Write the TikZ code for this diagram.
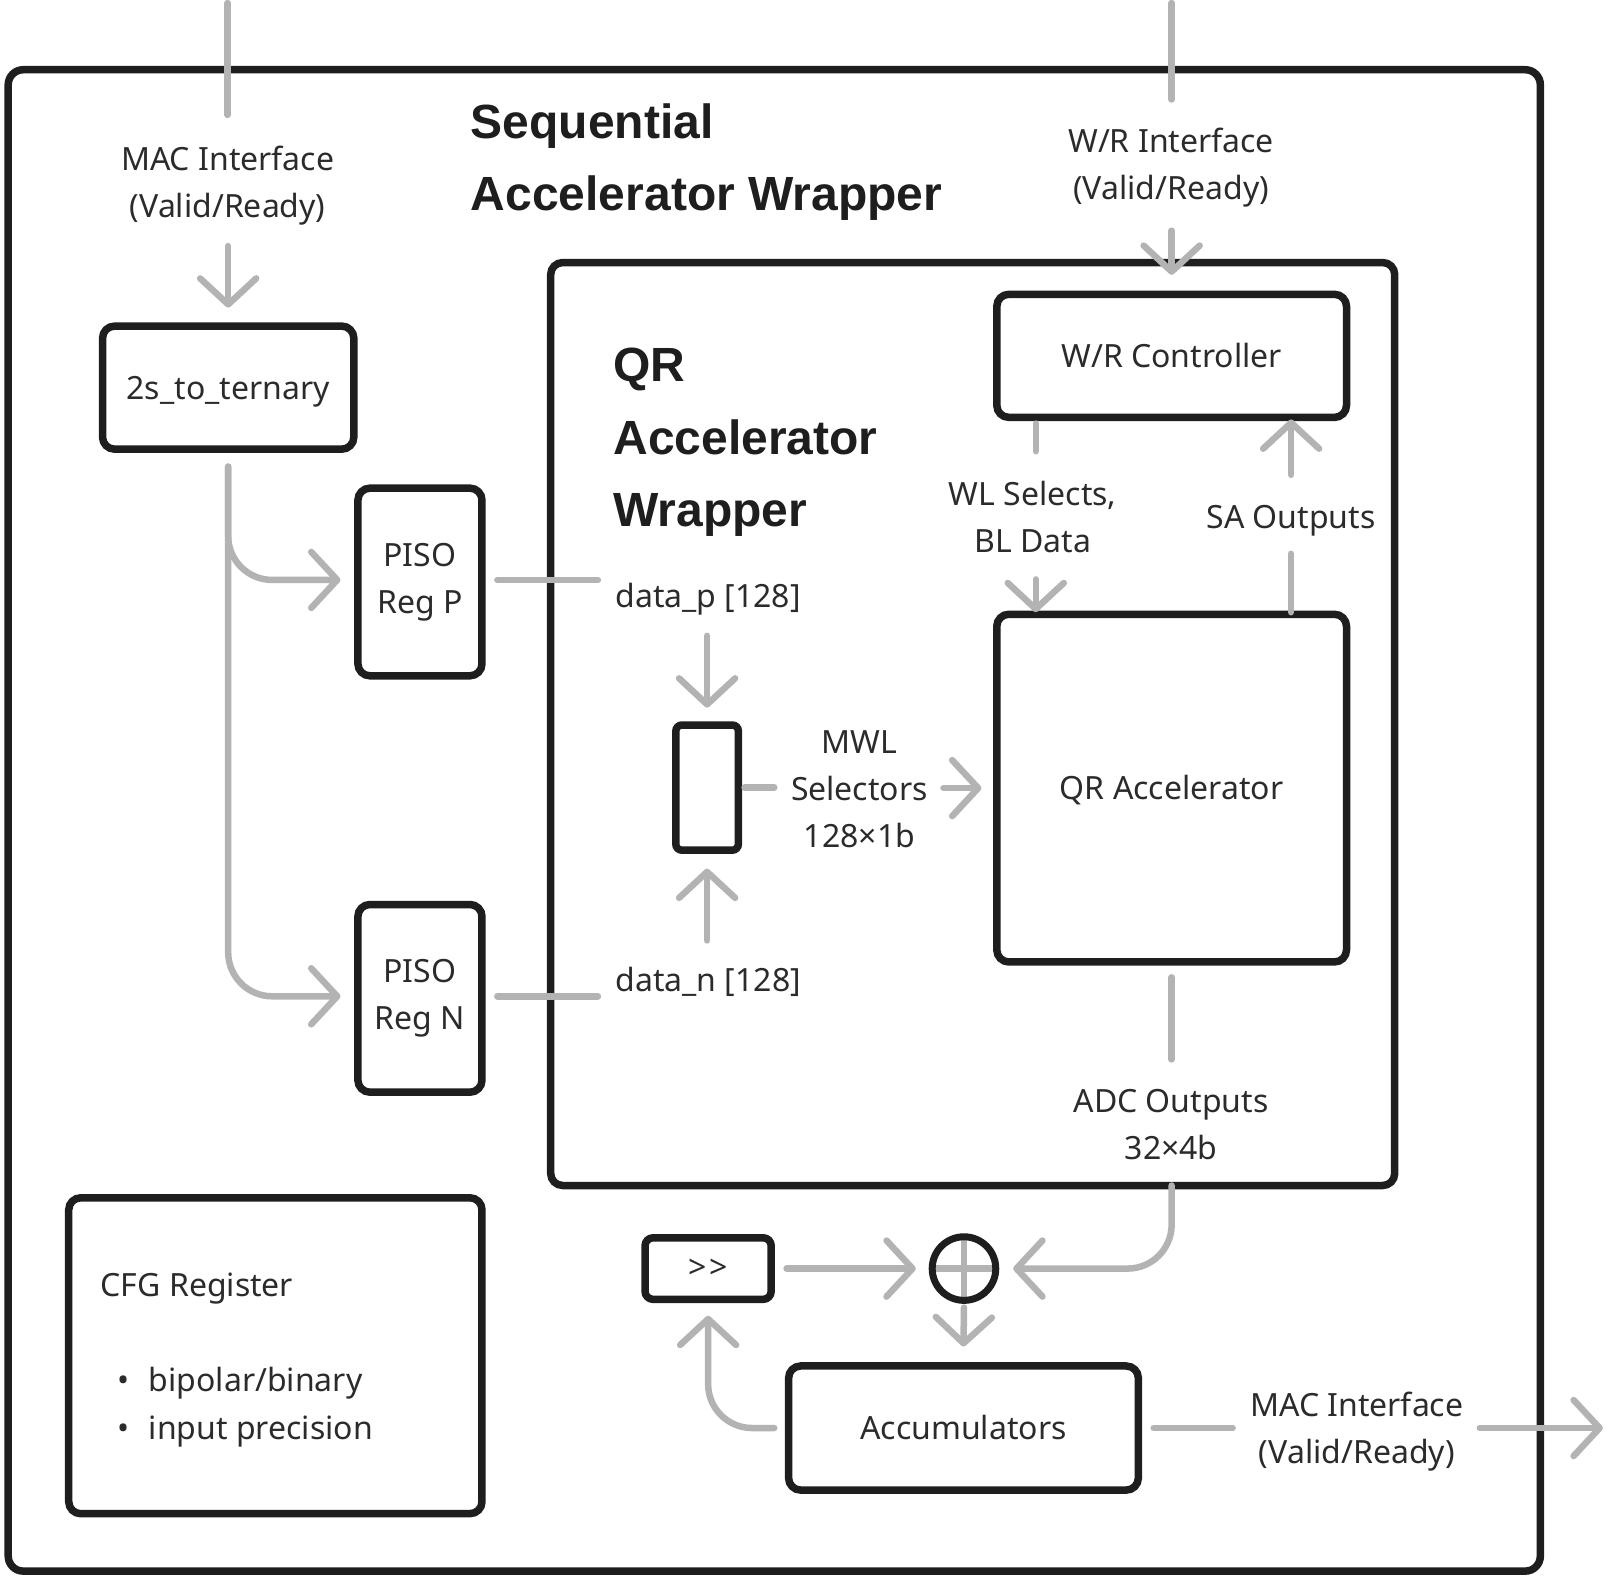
\documentclass[tikz,border=0pt]{standalone}
\usepackage{fontspec}
\setmainfont{Noto Sans}
\setsansfont{Noto Sans}
\newfontfamily\titlefont{Liberation Sans}[UprightFont={* Bold}]
\usetikzlibrary{arrows.meta,calc}
\definecolor{ink}{HTML}{1E1E1E}
\definecolor{txt}{HTML}{2B2B2B}
\definecolor{wiregray}{HTML}{B3B3B3}
\tikzset{
  box/.style={draw=ink, line width=7.5pt, rounded corners=12pt, align=center, text=txt,
    font=\fontsize{32}{47}\selectfont, inner sep=0pt, outer sep=0pt},
  oneline/.style={text height=23pt, text depth=0pt},
  wh/.style 2 args={minimum width=#1*1.0255pt, minimum height=#2*1.0255pt},
  lbl/.style={text=txt, font=\fontsize{32}{47}\selectfont, align=center, inner sep=0pt},
  lblw/.style={text=txt, font=\fontsize{32}{47}\selectfont, anchor=base west, inner sep=0pt},
  ttl/.style={text=ink, font=\titlefont\fontsize{48}{70}\selectfont, anchor=base west, inner sep=0pt},
  wire/.style={draw=wiregray, line width=6.5pt, line cap=round, line join=round},
  arr/.style={wire, -{Straight Barb[length=26pt,width=56pt,round]}},
}
\begin{document}
\begin{tikzpicture}[x=1.0255pt,y=-1.0255pt]
\useasboundingbox (0,0) rectangle (1568,1537);

% containers
\node[box, wh={1494}{1464}, rounded corners=15pt] (outer) at (755,800) {};
\node[box, wh={823}{900}] (wrap) at (948.5,706) {};

% titles
\node[ttl] (t1) at (459,135) {Sequential};
\node[ttl] (t2) at (459,205) {Accelerator Wrapper};
\node[ttl] (q1) at (598,372) {QR};
\node[ttl] (q2) at (598,443) {Accelerator};
\node[ttl] (q3) at (598,513) {Wrapper};

% blocks
\node[box, oneline, wh={245}{120}] (ts) at (222.5,378) {2s\_to\_ternary};
\node[box, wh={121}{183}] (pp) at (409.5,567.5) {PISO\\Reg P};
\node[box, wh={121}{183}] (pn) at (409.5,973.5) {PISO\\Reg N};
\node[box, oneline, wh={341}{120}] (wrc) at (1142.5,347) {W/R Controller};
\node[box, oneline, wh={341}{339}] (qra) at (1142.5,768.5) {QR Accelerator};
\node[box, wh={61}{122}, rounded corners=6pt] (mux) at (689.5,768) {};
\node[box, wh={123}{60}, rounded corners=8pt, font=\fontsize{32}{38}\selectfont] (shr) at (690.5,1237) {>\kern3pt>};
\node[box, oneline, wh={341}{121}] (acc) at (939.5,1392.5) {Accumulators};
\node[box, wh={403}{308}] (cfg) at (268.5,1322) {};

% CFG contents
\node[lblw] (cfgt) at (98,1264) {CFG Register};
\node[lblw] (b1) at (114,1357) {\textbullet};
\node[lblw] (b1t) at (145,1357) {bipolar/binary};
\node[lblw] (b2) at (114,1404) {\textbullet};
\node[lblw] (b2t) at (145,1404) {input precision};

% adder
\node[circle, minimum size=62*1.0255pt, inner sep=0pt, outer sep=0pt] (sum) at (940,1237) {};
\draw[wire, line cap=butt] (sum.north) -- (sum.south) (sum.west) -- (sum.east);
\draw[draw=ink, line width=7pt] (sum.center) circle[radius=31];

% labels
\node[lbl] (maclbl) at (222,181) {MAC Interface\\(Valid/Ready)};
\node[lbl] (wrlbl) at (1142,163) {W/R Interface\\(Valid/Ready)};
\node[lbl] (wllbl) at (1007,504) {WL Selects,\\BL Data};
\node[lbl] (salbl) at (1259,508) {SA Outputs};
\node[lblw] (dplbl) at (600,592) {data\_p [128]};
\node[lblw] (dnlbl) at (600,967) {data\_n [128]};
\node[lbl] (mwl) at (838,770) {MWL\\Selectors\\128×1b};
\node[lbl] (adc) at (1142,1096.5) {ADC Outputs\\32×4b};
\node[lbl] (macout) at (1323,1396) {MAC Interface\\(Valid/Ready)};

% free ends
\coordinate (macin) at (222,3);
\coordinate (macinE) at (222,112);
\coordinate (wrin) at (1142.5,3);
\coordinate (wrinE) at (1142.5,97);
\coordinate (pend) at (583,565.5);
\coordinate (nend) at (583,971.5);
\coordinate (outA) at (1443,1392.5);
\coordinate (outB) at (1563,1392.5);

% wires
\draw[wire] (macin) -- (macinE);
\draw[arr] ($(ts.north)+(0,-78)$) -- ($(ts.north)+(0,-18)$);
\draw[arr, rounded corners=44pt] ($(ts.south)+(0,17)$) |- ($(pp.west)+(-17,-2)$);
\draw[arr, rounded corners=44pt] ($(ts.south)+(0,17)$) |- ($(pn.west)+(-17,-2)$);
\draw[wire] ($(pp.east)+(15,-2)$) -- (pend);
\draw[wire] ($(pn.east)+(15,-2)$) -- (nend);
\draw[arr] ($(mux.north)+(0,-87)$) -- ($(mux.north)+(0,-17)$);
\draw[arr] ($(mux.south)+(0,88)$) -- ($(mux.south)+(0,18)$);
\draw[wire] ($(mux.east)+(6,0)$) -- ($(mux.east)+(35,0)$);
\draw[arr] ($(qra.west)+(-52,0)$) -- ($(qra.west)+(-15,0)$);

\draw[wire] (wrin) -- (wrinE);
\draw[arr] ($(wrc.north)+(0,-62)$) -- ($(wrc.north)+(0,-19)$);
\draw[wire] ($(wrc.south)+(-132.5,6)$) -- ($(wrc.south)+(-132.5,33)$);
\draw[arr] ($(qra.north)+(-132.5,-34)$) -- ($(qra.north)+(-132.5,-2)$);
\draw[wire] ($(qra.north)+(116.5,-2)$) -- ($(qra.north)+(116.5,-59)$);
\draw[arr] ($(wrc.south)+(116.5,56)$) -- ($(wrc.south)+(116.5,2)$);

\draw[wire] ($(qra.south)+(0,15)$) -- ($(qra.south)+(0,95)$);
\draw[arr, rounded corners=44pt] ($(wrap.south)+(194,0)$) |- ($(sum.east)+(17,0)$);
\draw[arr] ($(shr.east)+(15,0)$) -- ($(sum.west)+(-16,0)$);
\draw[arr] ($(sum.south)+(0,7)$) -- ($(acc.north)+(0,-19)$);
\draw[arr, rounded corners=44pt] ($(acc.west)+(-14,0)$) -| ($(shr.south)+(0,16)$);
\draw[wire] ($(acc.east)+(15,0)$) -- ($(acc.east)+(92,0)$);
\draw[arr] (outA) -- (outB);
\end{tikzpicture}
\end{document}
